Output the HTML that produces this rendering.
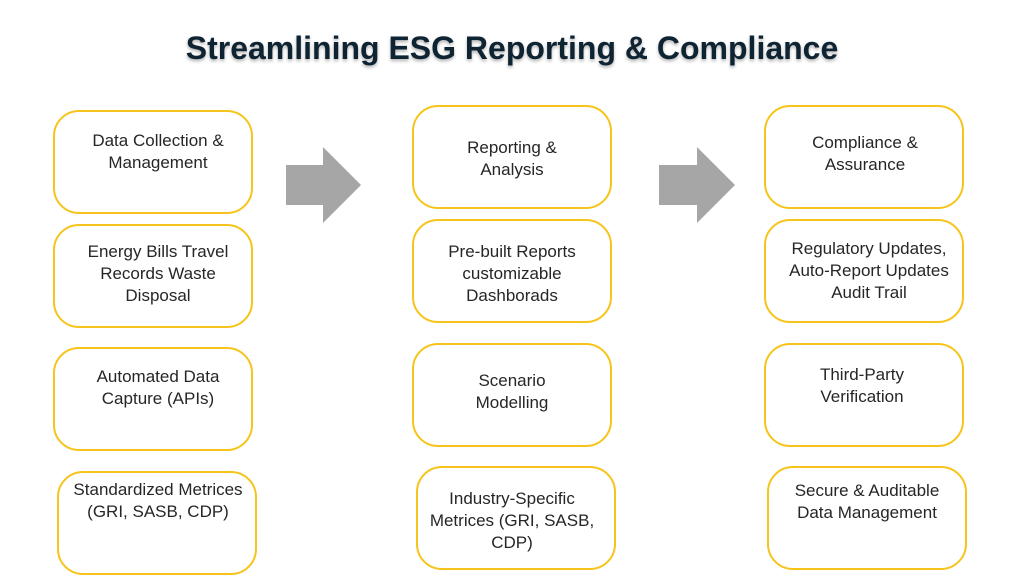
<!DOCTYPE html>
<html><head><meta charset="utf-8"><style>
body{margin:0;width:1024px;height:576px;background:#fff;position:relative;overflow:hidden;font-family:"Liberation Sans",sans-serif;}
.t{position:absolute;left:0;width:1024px;top:30px;text-align:center;font-size:32px;font-weight:bold;color:#0f2433;text-shadow:0 2px 3px rgba(0,0,0,0.3);}
.b{position:absolute;width:196px;height:100px;border:2px solid #f6c41b;border-radius:26px;box-sizing:content-box;}
.x{position:absolute;width:200px;text-align:center;font-size:17px;line-height:22px;color:#262626;}
</style></head><body>
<div class="t">Streamlining ESG Reporting &amp; Compliance</div>

<div class="b" style="left:53px;top:110px"></div>
<div class="x" style="left:58px;top:130px">Data Collection &amp;<br>Management</div>
<div class="b" style="left:53px;top:224px"></div>
<div class="x" style="left:58px;top:241px">Energy Bills Travel<br>Records Waste<br>Disposal</div>
<div class="b" style="left:53px;top:347px"></div>
<div class="x" style="left:58px;top:366px">Automated Data<br>Capture (APIs)</div>
<div class="b" style="left:57px;top:471px"></div>
<div class="x" style="left:58px;top:479px">Standardized Metrices<br>(GRI, SASB, CDP)</div>

<div class="b" style="left:412px;top:105px"></div>
<div class="x" style="left:412px;top:137px">Reporting &amp;<br>Analysis</div>
<div class="b" style="left:412px;top:219px"></div>
<div class="x" style="left:412px;top:241px">Pre-built Reports<br>customizable<br>Dashborads</div>
<div class="b" style="left:412px;top:343px"></div>
<div class="x" style="left:412px;top:370px">Scenario<br>Modelling</div>
<div class="b" style="left:416px;top:466px"></div>
<div class="x" style="left:412px;top:488px">Industry-Specific<br>Metrices (GRI, SASB,<br>CDP)</div>

<div class="b" style="left:764px;top:105px"></div>
<div class="x" style="left:765px;top:132px">Compliance &amp;<br>Assurance</div>
<div class="b" style="left:764px;top:219px"></div>
<div class="x" style="left:769px;top:238px">Regulatory Updates,<br>Auto-Report Updates<br>Audit Trail</div>
<div class="b" style="left:764px;top:343px"></div>
<div class="x" style="left:762px;top:364px">Third-Party<br>Verification</div>
<div class="b" style="left:767px;top:466px"></div>
<div class="x" style="left:767px;top:480px">Secure &amp; Auditable<br>Data Management</div>

<svg style="position:absolute;left:0;top:0" width="1024" height="576">
<polygon points="286,165 323,165 323,147 361,185 323,223 323,205 286,205" fill="#a6a6a6"/>
<polygon points="659,165 697,165 697,147 735,185 697,223 697,205 659,205" fill="#a6a6a6"/>
</svg>
</body></html>
